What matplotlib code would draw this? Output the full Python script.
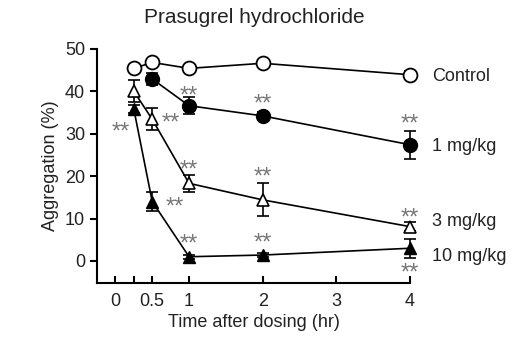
import matplotlib
matplotlib.use("Agg")
import matplotlib.pyplot as plt

plt.rcParams['font.family'] = ['Liberation Sans', 'DejaVu Sans']

# time points (hr)
t_ctrl = [0.25, 0.5, 1, 2, 4]
t_1mg = [0.5, 1, 2, 4]
t_3mg = [0.25, 0.5, 1, 2, 4]
t_10mg = [0.25, 0.5, 1, 2, 4]

# aggregation (%) and SEM
ctrl = [45.4, 46.8, 45.4, 46.6, 43.9]
ctrl_err = [0.8, 0.6, 0.6, 0.6, 0.8]
mg1 = [42.9, 36.6, 34.2, 27.4]
mg1_err = [1.5, 2.0, 1.0, 3.3]
mg3 = [40.0, 33.4, 18.3, 14.4, 8.1]
mg3_err = [2.6, 2.6, 2.0, 3.9, 1.0]
mg10 = [35.8, 14.0, 1.0, 1.4, 3.0]
mg10_err = [1.0, 2.3, 0.5, 0.5, 2.2]

# significance marks (x, y)
star_x = [0.07, 0.75, 0.8, 1, 1, 1, 2, 2, 2, 4, 4, 4]
star_y = [31.4, 33.5, 13.9, 39.9, 22.6, 5.0, 38.0, 20.8, 5.4, 33.3, 11.3, -1.7]

xticks = [0, 0.25, 0.5, 1, 2, 3, 4]
xticklabels = ['0', '', '0.5', '1', '2', '3', '4']
yticks = [0, 10, 20, 30, 40, 50]

fig = plt.figure(figsize=(5.2, 3.49), dpi=100)
ax = fig.add_axes([0.1865, 0.189, 0.602, 0.671])

kw = dict(color='black', lw=1.2, capsize=4, capthick=1.2, elinewidth=1.2, clip_on=False)
ax.errorbar(t_10mg, mg10, yerr=mg10_err, marker='^', ms=9, mfc='black', mec='black', **kw)
ax.errorbar(t_3mg, mg3, yerr=mg3_err, marker='^', ms=9, mfc='white', mec='black', mew=1.2, **kw)
ax.errorbar(t_1mg, mg1, yerr=mg1_err, marker='o', ms=10, mfc='black', mec='black', **kw)
ax.errorbar(t_ctrl, ctrl, yerr=ctrl_err, marker='o', ms=10, mfc='white', mec='black', mew=1.3, **kw)

for x, y in zip(star_x, star_y):
    ax.text(x, y - 1.2, '**', color='#777777', fontsize=17, ha='center', va='center')

labels = ['Control', '1 mg/kg', '3 mg/kg', '10 mg/kg']
label_y = [43.6, 27.1, 9.3, 1.0]
for s, y in zip(labels, label_y):
    ax.text(4.3, y, s, fontsize=13, ha='left', va='center', color='#222222')

ax.set_xlim(-0.25, 4)
ax.set_ylim(-5.2, 50)
ax.spines['top'].set_visible(False)
ax.spines['right'].set_visible(False)
ax.spines['left'].set_linewidth(1.5)
ax.spines['bottom'].set_linewidth(1.5)
ax.set_xticks(xticks)
ax.set_xticklabels(xticklabels)
ax.set_yticks(yticks)
ax.tick_params(axis='x', direction='in', length=5, width=1.5, labelsize=13, pad=7, labelcolor='#222222')
ax.tick_params(axis='y', direction='out', length=5, width=1.5, labelsize=13, labelcolor='#222222')
ax.set_xlabel('Time after dosing (hr)', fontsize=13, color='#222222', labelpad=3)
ax.set_ylabel('Aggregation (%)', fontsize=13, color='#222222', labelpad=4)
fig.text(0.49, 0.95, 'Prasugrel hydrochloride', fontsize=15, ha='center', va='center', color='#222222')

fig.savefig('out.png', dpi=100)
